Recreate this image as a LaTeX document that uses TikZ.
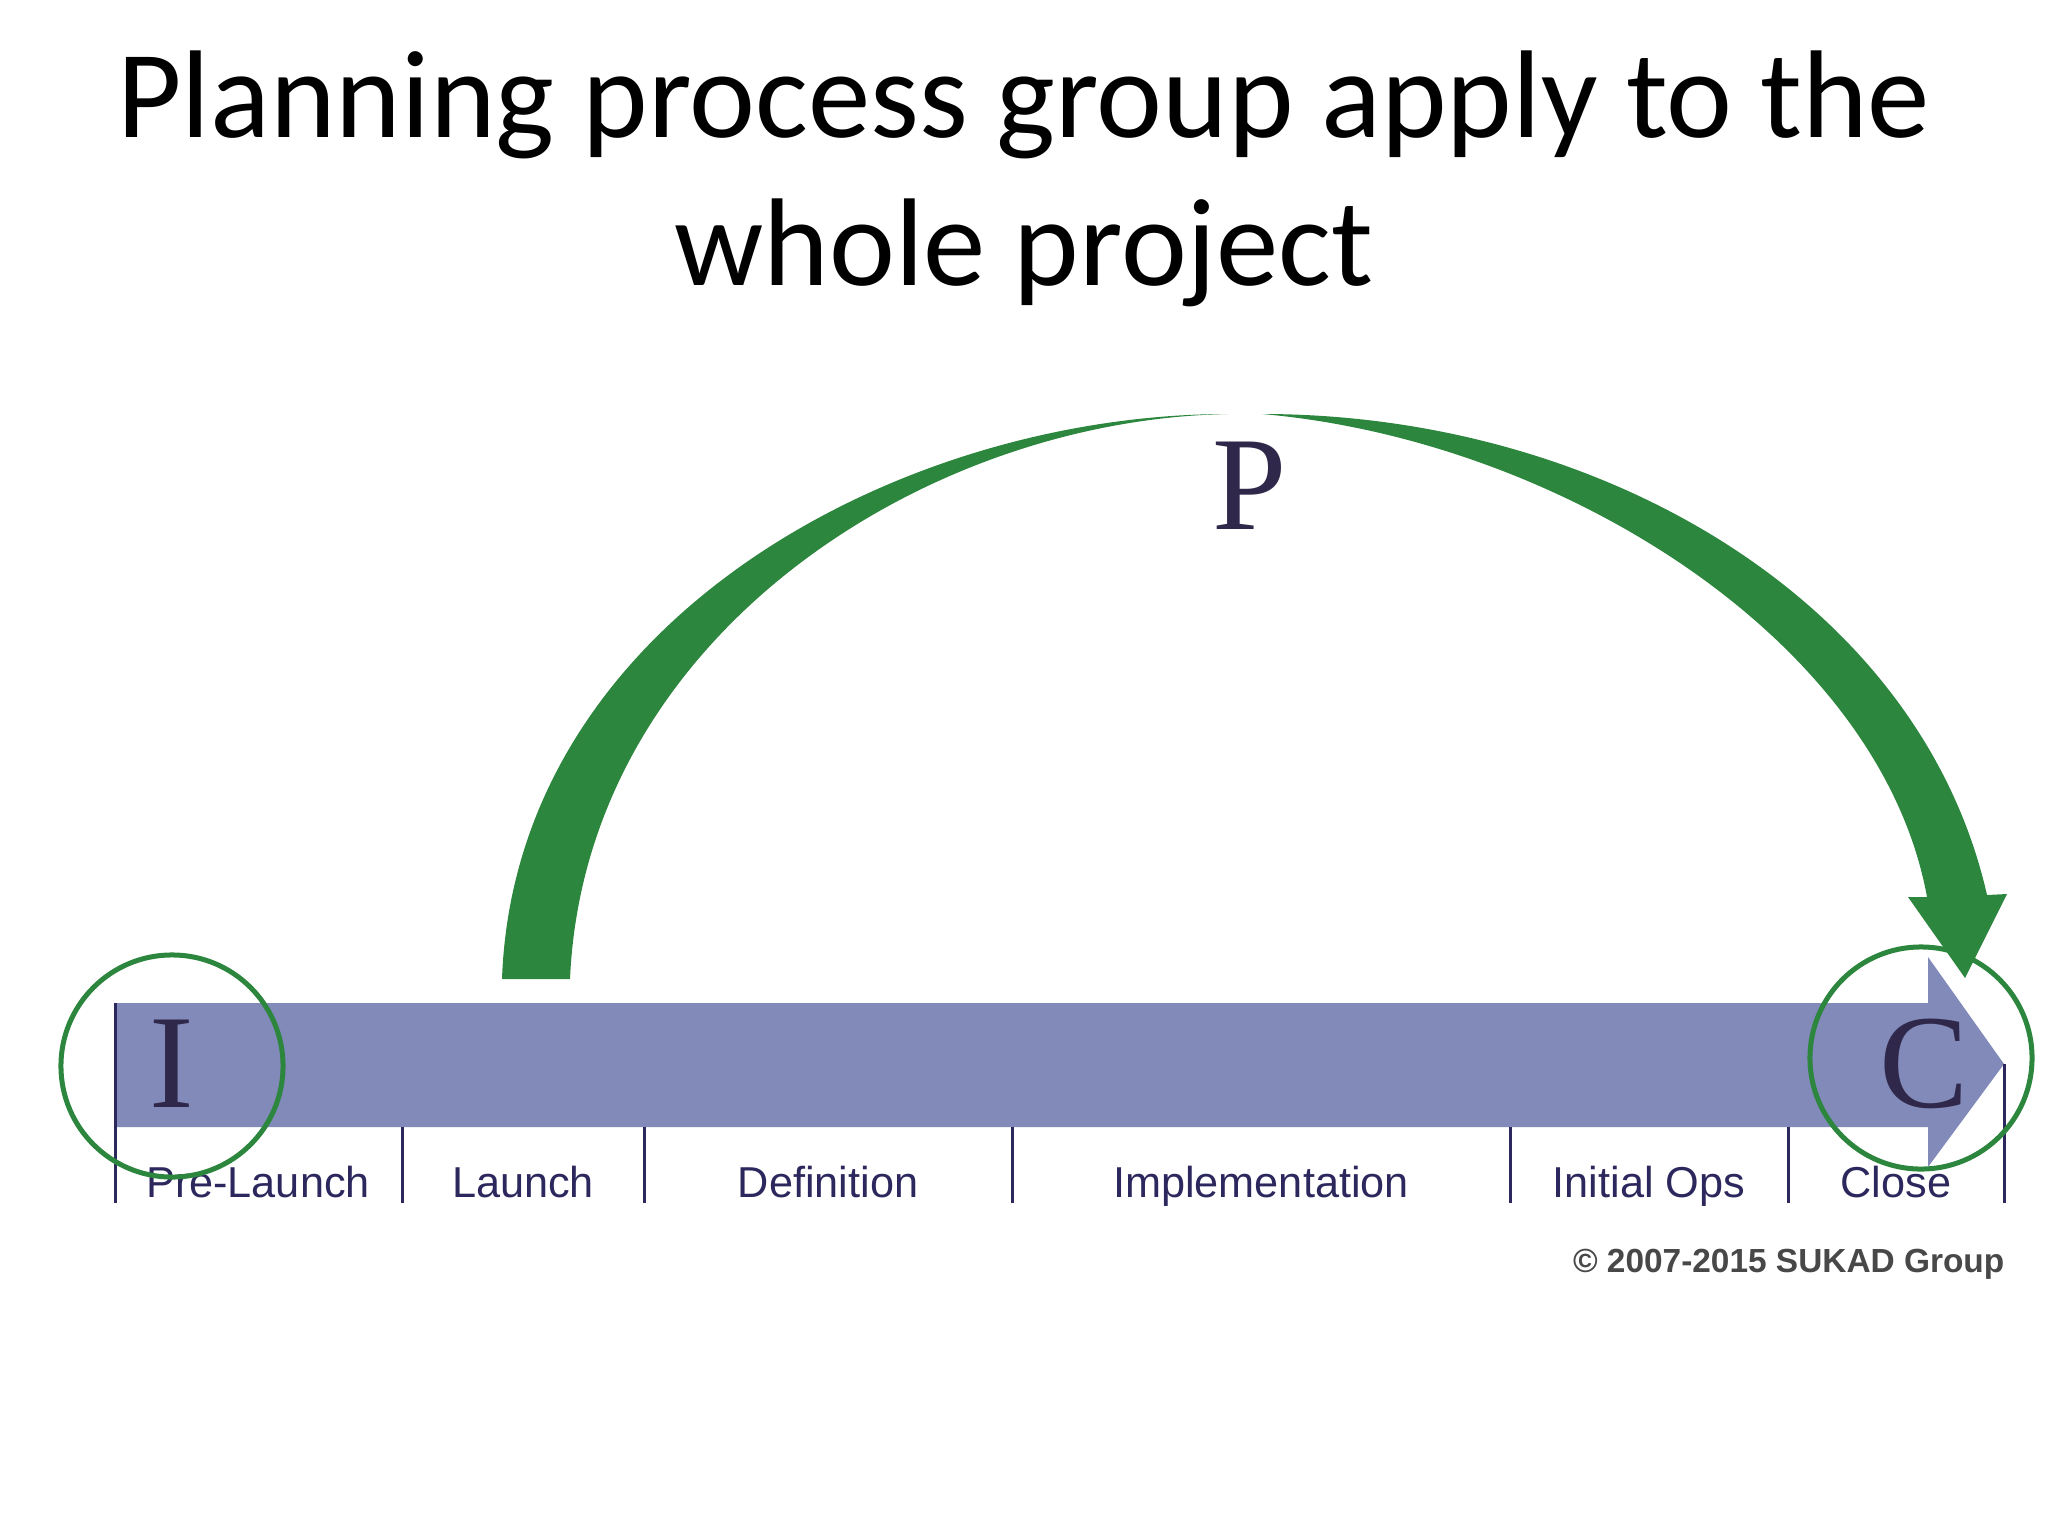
\documentclass[tikz,border=0pt]{standalone}
\usepackage{fontspec}
\setmainfont{Liberation Sans}
\newfontfamily\titlefont{Carlito}
\newfontfamily\capfont{Liberation Serif}

\definecolor{arcgreen}{RGB}{44,134,62}
\definecolor{barblue}{RGB}{129,138,184}
\definecolor{inkdark}{RGB}{47,40,74}
\definecolor{phasenavy}{RGB}{44,40,94}
\definecolor{copygrey}{RGB}{72,72,72}

\begin{document}
\begin{tikzpicture}[x=0.01cm, y=-0.01cm]
				\tikzstyle{every node}=[inner sep=0pt]
				\tikzstyle{phase}=[anchor=base, text=phasenavy, font=\fontsize{12.3}{14}\selectfont]
				\tikzstyle{letter}=[text=inkdark, font=\capfont\fontsize{38}{40}\selectfont]
				\tikzstyle{ring}=[circle, draw=arcgreen, line width=0.05cm, minimum size=2.22cm]
				\tikzstyle{tick}=[draw=phasenavy, line width=0.03cm]
				\useasboundingbox (0,0) rectangle (2048,1536);

				\node[anchor=base, font=\titlefont\fontsize{35.5}{42}\selectfont] (title1) at (1024,137) {Planning process group apply to the};
				\node[anchor=base, font=\titlefont\fontsize{35.5}{42}\selectfont] (title2) at (1024,285) {whole project};

				% timeline bar
				\fill[barblue] (115,1003) -- (1928,1003) -- (1928,957) -- (2004,1064) -- (1928,1167) -- (1928,1127) -- (115,1127) -- cycle;
				\draw[tick] (115,1003) -- (115,1203);
				\draw[tick] (402,1127) -- (402,1203);
				\draw[tick] (644,1127) -- (644,1203);
				\draw[tick] (1012,1127) -- (1012,1203);
				\draw[tick] (1510,1127) -- (1510,1203);
				\draw[tick] (1788,1127) -- (1788,1203);
				\draw[tick] (2004,1064) -- (2004,1203);

				\node[phase] (prelaunch) at (258,1197) {Pre-Launch};
				\node[phase] (launch) at (523,1197) {Launch};
				\node[phase] (definition) at (828,1197) {Definition};
				\node[phase] (implementation) at (1261,1197) {Implementation};
				\node[phase] (initialops) at (1649,1197) {Initial Ops};
				\node[phase] (close) at (1896,1197) {Close};

				\node[anchor=base east, text=copygrey, font=\bfseries\fontsize{9.5}{11}\selectfont] (copyright) at (2005,1272) {© 2007-2015 SUKAD Group};

				\node[letter] (I) at (172,1064) {I};
				\node[letter] (C) at (1924,1064) {C};
				\node[letter] (P) at (1250,486) {P};

				\node[ring] (ringI) at (172,1066) {};
				\node[ring] (ringC) at (1921,1058) {};

				% planning arc, left half
				\fill[arcgreen] (502,979) .. controls (515,620) and (900,414) .. (1228,414)
					.. controls (920,420) and (585,640) .. (570,979) -- cycle;
				% planning arc, right half with head
				\fill[arcgreen] (1262,414) .. controls (1600,414) and (1920,600) .. (1987,895)
					-- (2007,894) -- (1965,978) -- (1908,897) -- (1927,897)
					.. controls (1880,640) and (1560,440) .. (1262,414) -- cycle;

\end{tikzpicture}
\end{document}
